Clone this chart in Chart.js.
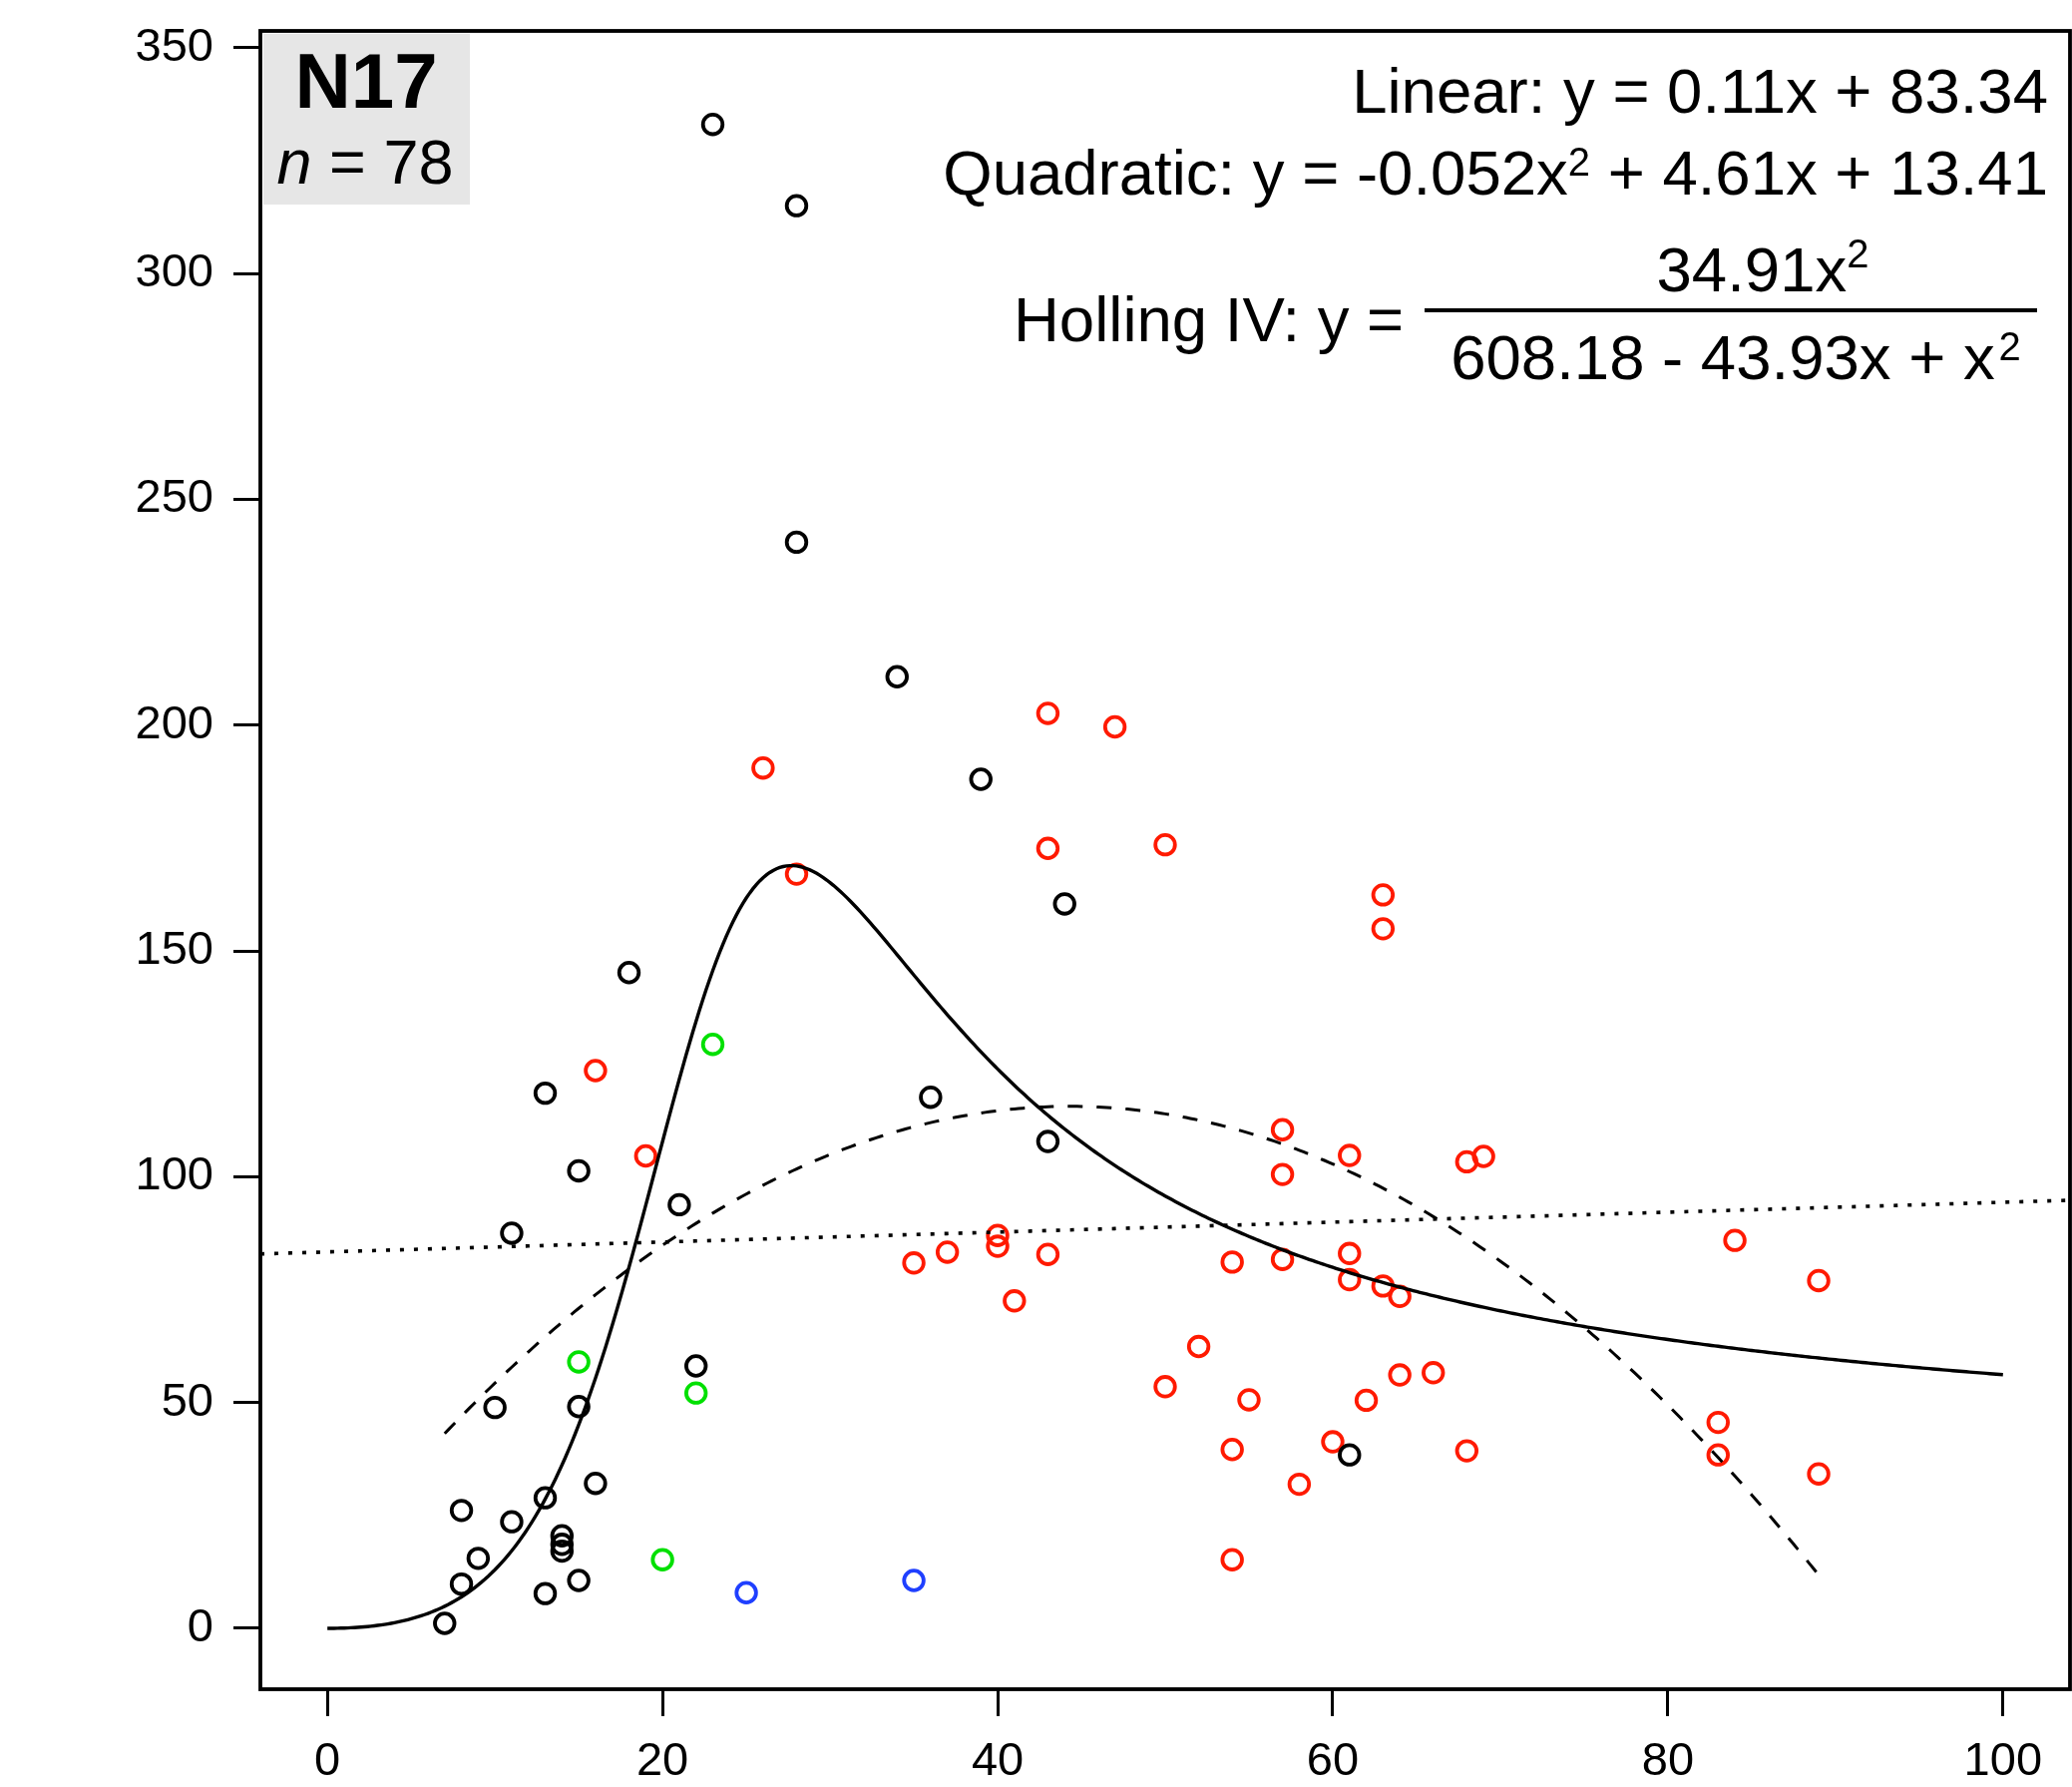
<!DOCTYPE html>
<html><head><meta charset="utf-8">
<script src="https://cdn.jsdelivr.net/npm/chart.js@4.4.1/dist/chart.umd.min.js"></script>
<style>html,body{margin:0;padding:0;background:#fff;} canvas{display:block}</style>
</head><body>
<canvas id="c" width="2077" height="1791"></canvas>
<script>
// ---- data ----
const xTicks = [0, 20, 40, 60, 80, 100];
const yTicks = [0, 50, 100, 150, 200, 250, 300, 350];

const blackX = [23, 28, 28, 34, 39, 44, 18, 36, 13, 43, 15, 21, 11, 22, 10, 15, 16, 8, 13, 11, 9, 14, 14, 14, 8, 13, 15, 7, 61];
const blackY = [333, 315, 240.5, 210.7, 188, 160.4, 145.2, 117.6, 118.5, 107.8, 101.3, 93.8, 87.5, 58.1, 48.9, 49.1, 32.1, 26.1, 28.9, 23.6, 15.5, 20.5, 18.6, 17.1, 9.8, 7.7, 10.6, 1.1, 38.4];

const greenX = [23, 15, 22, 20];
const greenY = [129.3, 59, 52.1, 15.2];

const blueX = [25, 35];
const blueY = [7.9, 10.6];

const redX = [43, 47, 26, 43, 50, 28, 63, 63, 16, 19, 57, 61, 57, 68, 69, 40, 40, 37, 35, 43, 54, 57, 61, 61, 63, 64, 41, 84, 89, 52, 50, 55, 62, 64, 66, 60, 54, 68, 58, 83, 83, 89, 54];
const redY = [202.6, 199.6, 190.5, 172.7, 173.5, 167, 162.4, 154.9, 123.5, 104.6, 110.4, 104.7, 100.5, 103.3, 104.5, 87, 84.6, 83.3, 80.9, 82.8, 81.1, 81.7, 83, 77.2, 75.8, 73.5, 72.5, 85.9, 77, 62.4, 53.5, 50.6, 50.5, 56.1, 56.6, 41.3, 39.6, 39.3, 31.9, 45.6, 38.4, 34.2, 15.2];

// fitted models, as printed on the chart
const linearCoef = [0.11, 83.34];            // a*x + b
const quadCoef = [-0.052, 4.61, 13.41];      // a*x^2 + b*x + c
const hollingCoef = [34.91, 608.18, -43.93]; // a x^2 / (b + c x + x^2)
const linearRange = [-4, 104];
const quadRange = [7, 89];
const hollingRange = [0, 100];

// ---- build datasets ----
function pts(xs, ys) { return xs.map((x, i) => ({x: x, y: ys[i]})); }
function curve(range, step, f) {
  const out = [];
  for (let x = range[0]; x <= range[1] + 1e-9; x += step) out.push({x: x, y: f(x)});
  return out;
}
const linearPts = curve(linearRange, 1, x => linearCoef[0] * x + linearCoef[1]);
const quadPts = curve(quadRange, 0.25, x => quadCoef[0] * x * x + quadCoef[1] * x + quadCoef[2]);
const hollingPts = curve(hollingRange, 0.2, x => hollingCoef[0] * x * x / (hollingCoef[1] + hollingCoef[2] * x + x * x));

const FONT = "'Liberation Sans', Arial, Helvetica, sans-serif";

function lineDs(data, dash, w) {
  return {data: data, showLine: true, pointRadius: 0, pointHoverRadius: 0, borderColor: '#000', borderWidth: w,
          borderDash: dash, borderCapStyle: 'butt', fill: false, tension: 0};
}
function ptDs(data, color) {
  return {data: data, showLine: false, pointStyle: 'circle', pointRadius: 9.8, pointHoverRadius: 9.8,
          pointBorderWidth: 3.8, borderColor: color, backgroundColor: 'rgba(0,0,0,0)'};
}

const annot = {
  id: 'annot',
  beforeDatasetsDraw(chart) {
    const ctx = chart.ctx;
    ctx.save();
    ctx.fillStyle = '#e6e6e6';
    ctx.fillRect(264, 34, 207, 171);
    ctx.restore();
  },
  afterDraw(chart) {
    const ctx = chart.ctx;
    const a = chart.chartArea;
    ctx.save();
    // frame
    ctx.strokeStyle = '#000';
    ctx.lineWidth = 3.8;
    ctx.strokeRect(a.left, a.top, a.right - a.left, a.bottom - a.top);

    ctx.fillStyle = '#000';
    ctx.textBaseline = 'alphabetic';
    // N17 label
    ctx.textAlign = 'center';
    ctx.font = 'bold 78px ' + FONT;
    ctx.fillText('N17', 367, 108);
    ctx.font = 'italic 63px ' + FONT;
    const wn = ctx.measureText('n').width;
    ctx.font = '63px ' + FONT;
    const wr = ctx.measureText(' = 78').width;
    const sx = 366 - (wn + wr) / 2;
    ctx.textAlign = 'left';
    ctx.font = 'italic 63px ' + FONT;
    ctx.fillText('n', sx, 184);
    ctx.font = '63px ' + FONT;
    ctx.fillText(' = 78', sx + wn, 184);

    function runWidth(parts) {
      let w = 0;
      parts.forEach(p => { ctx.font = p.f + 'px ' + FONT; w += ctx.measureText(p.t).width; });
      return w;
    }
    function drawRun(parts, x, y) {
      ctx.textAlign = 'left';
      parts.forEach(p => {
        ctx.font = p.f + 'px ' + FONT;
        ctx.fillText(p.t, x, y + (p.dy || 0));
        x += ctx.measureText(p.t).width;
      });
    }
    const R = 2053;
    const lin = [{t: 'Linear: y = 0.11x + 83.34', f: 63.5}];
    drawRun(lin, R - runWidth(lin), 113);
    const quad = [{t: 'Quadratic: y = -0.052x', f: 63.5}, {t: '2', f: 40, dy: -19}, {t: ' + 4.61x + 13.41', f: 63.5}];
    drawRun(quad, R - runWidth(quad), 195);
    drawRun([{t: 'Holling IV: y =', f: 63.5}], 1016, 342);
    ctx.fillRect(1428, 309, 614, 4);
    const num = [{t: '34.91x', f: 63.5}, {t: '2', f: 40, dy: -24}];
    drawRun(num, 1767 - runWidth(num) / 2, 292);
    const den = [{t: '608.18 - 43.93x + x', f: 63.5}, {t: ' ', f: 14}, {t: '2', f: 40, dy: -19}];
    drawRun(den, 1740 - runWidth(den) / 2, 380);
    ctx.restore();
  }
};

const tickFont = {family: FONT, size: 47};

new Chart(document.getElementById('c'), {
  type: 'scatter',
  data: {
    datasets: [
      lineDs(hollingPts, [], 3.4),
      lineDs(quadPts, [15, 14], 3),
      lineDs(linearPts, [4, 10], 3.6),
      ptDs(pts(blackX, blackY), '#000000'),
      ptDs(pts(redX, redY), '#ff1a00'),
      ptDs(pts(greenX, greenY), '#00e000'),
      ptDs(pts(blueX, blueY), '#1f3fff')
    ]
  },
  options: {
    responsive: false,
    animation: false,
    devicePixelRatio: 1,
    layout: {autoPadding: false, padding: {top: 31, right: 2, left: 0, bottom: 0}},
    plugins: {legend: {display: false}, tooltip: {enabled: false}},
    scales: {
      x: {
        type: 'linear', min: -4, max: 104,
        afterBuildTicks: s => { s.ticks = xTicks.map(v => ({value: v})); },
        afterFit: s => { s.height = 98; s.paddingLeft = 0; s.paddingRight = 0; },
        grid: {drawOnChartArea: false, drawTicks: true, tickLength: 27, tickWidth: 3, tickColor: '#000'},
        border: {display: false},
        ticks: {font: tickFont, color: '#000', padding: 18, maxRotation: 0, autoSkip: false}
      },
      y: {
        type: 'linear', min: -13.48, max: 353.7,
        afterBuildTicks: s => { s.ticks = yTicks.map(v => ({value: v})); },
        afterFit: s => { s.width = 261; s.paddingTop = 0; s.paddingBottom = 0; },
        grid: {drawOnChartArea: false, drawTicks: true, tickLength: 27, tickWidth: 3, tickColor: '#000'},
        border: {display: false},
        ticks: {font: tickFont, color: '#000', padding: 20, autoSkip: false}
      }
    }
  },
  plugins: [annot]
});
</script>
</body></html>
